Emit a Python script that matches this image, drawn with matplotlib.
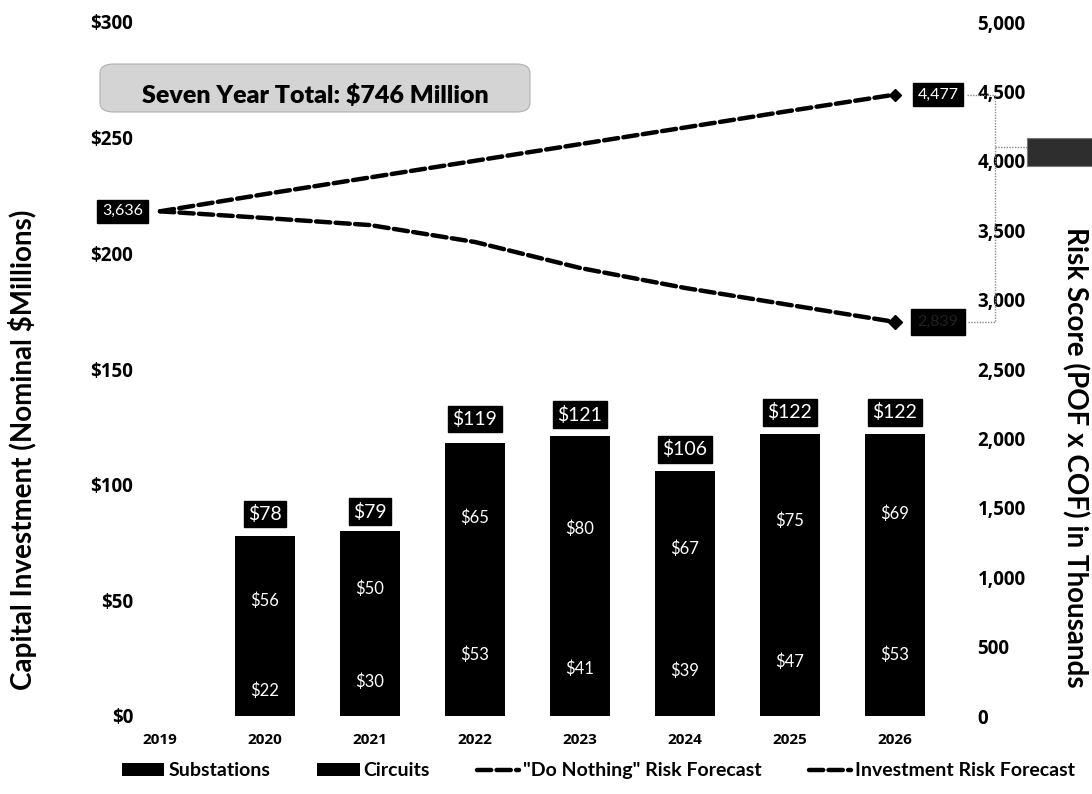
import matplotlib
matplotlib.use("Agg")
import matplotlib.pyplot as plt
from matplotlib.patches import FancyBboxPatch, Rectangle
from matplotlib.lines import Line2D
from matplotlib.transforms import blended_transform_factory

plt.rcParams['font.family'] = ['Lato', 'DejaVu Sans']

years = ['2019', '2020', '2021', '2022', '2023', '2024', '2025', '2026']
substations = [0, 22, 30, 53, 41, 39, 47, 53]
circuits = [0, 56, 50, 65, 80, 67, 75, 69]
totals = [0, 78, 79, 119, 121, 106, 122, 122]
do_nothing_risk = [3636, 3760, 3880, 4000, 4120, 4240, 4360, 4477]
investment_risk = [3636, 3588, 3537, 3415, 3228, 3084, 2961, 2839]
money_ticks = [0, 50, 100, 150, 200, 250, 300]
money_tick_labels = ['$0', '$50', '$100', '$150', '$200', '$250', '$300']
risk_ticks = [0, 500, 1000, 1500, 2000, 2500, 3000, 3500, 4000, 4500, 5000]
risk_tick_labels = ['0', '500', '1,000', '1,500', '2,000', '2,500', '3,000',
                    '3,500', '4,000', '4,500', '5,000']
total_text = 'Seven Year Total: $746 Million'

W, H = 1092, 794
fig = plt.figure(figsize=(W / 100, H / 100), dpi=100)
left_px, right_px, top_px, bottom_px = 140, 965, 22, 716
ax = fig.add_axes([left_px / W, 1 - bottom_px / H,
                   (right_px - left_px) / W, (bottom_px - top_px) / H])
ax2 = ax.twinx()

x = list(range(len(years)))
bw = 0.57
ax.bar(x, substations, bw, color='black', label='Substations', zorder=2)
ax.bar(x, circuits, bw, bottom=substations, color='black', label='Circuits', zorder=2)

# segment labels inside the stacks, totals in boxes above
for i in x:
    if totals[i] == 0:
        continue
    ax.text(i, substations[i] / 2, f'${substations[i]}', color='white',
            ha='center', va='center', fontsize=12, zorder=3)
    ax.text(i, substations[i] + circuits[i] / 2, f'${circuits[i]}', color='white',
            ha='center', va='center', fontsize=12, zorder=3)
    ax.annotate(f'${totals[i]}', (i, totals[i]), xytext=(0, 15.5),
                textcoords='offset points', ha='center', va='center',
                fontsize=14, color='white', zorder=4,
                bbox=dict(boxstyle='square,pad=0.22', fc='black', ec='black'))

tick_font = dict(family=['Open Sans', 'DejaVu Sans'], weight='bold')
ax.set_xlim(-0.19, 7 + (right_px - 895) / 105)
ax.set_ylim(0, 300)
ax.set_yticks(money_ticks, labels=money_tick_labels, fontsize=13.5, **tick_font)
ax.set_xticks(x, labels=years, fontsize=11, **tick_font)
for t in ax.get_xticklabels():
    t.set_fontsize(11)
    t.set_fontweight('bold')
ax.tick_params(axis='both', length=0)
ax.tick_params(axis='y', pad=5)
ax.tick_params(axis='x', pad=12)
ax.set_ylabel('Capital Investment (Nominal $Millions)', fontsize=20,
              fontweight='bold', va='center')
ax.yaxis.set_label_coords(-0.143, 0.383)

dash = dict(linewidth=3.2, dashes=(3.2, 1.2), dash_capstyle='round', color='black')
ax2.plot(x, do_nothing_risk, marker='D', markevery=[len(x) - 1], markersize=6,
         label='"Do Nothing" Risk Forecast', zorder=5, **dash)
ax2.plot(x, investment_risk, marker='D', markevery=[len(x) - 1], markersize=7,
         label='Investment Risk Forecast', zorder=5, **dash)
ax2.set_ylim(0, 5000)
ax2.set_yticks(risk_ticks, labels=risk_tick_labels, fontsize=13.5, **tick_font)
ax2.tick_params(axis='y', length=0, pad=9)
ax2.set_ylabel('Risk Score (POF x COF) in Thousands', fontsize=20,
               fontweight='bold', rotation=270, va='center')
ax2.yaxis.set_label_coords(1.133, 0.373)

for a in (ax, ax2):
    for s in a.spines.values():
        s.set_visible(False)

# risk end-point labels
box = dict(boxstyle='square,pad=0.3', fc='black', ec='black')
ax2.annotate(f'{do_nothing_risk[0]:,}', (0, do_nothing_risk[0]), xytext=(-27, 0),
             textcoords='offset points', ha='center', va='center', fontsize=11.5,
             color='white', bbox=box, zorder=6, annotation_clip=False)
ax2.annotate(f'{do_nothing_risk[-1]:,}', (7, do_nothing_risk[-1]), xytext=(31, 0),
             textcoords='offset points', ha='center', va='center', fontsize=11.5,
             color='white', bbox=box, zorder=6, annotation_clip=False)
ax2.annotate(f'{investment_risk[-1]:,}', (7, investment_risk[-1]), xytext=(31, 0),
             textcoords='offset points', ha='center', va='center', fontsize=11.5,
             color='#222222',
             bbox=dict(boxstyle='square,pad=0.4', fc='black', ec='black'),
             zorder=6, annotation_clip=False)

# bracket joining the two 2026 risk values
tr = blended_transform_factory(ax.transAxes, ax2.transData)
bx = (995 - left_px) / (right_px - left_px)
lx = 1.003
mid = 4100
gkw = dict(transform=tr, color='#888888', linewidth=1, linestyle=(0, (1, 1)),
           clip_on=False, zorder=1)
fig.add_artist(Line2D([lx, bx, bx, lx], [do_nothing_risk[-1], do_nothing_risk[-1],
                                         investment_risk[-1], investment_risk[-1]], **gkw))
fig.add_artist(Line2D([bx, 1.075], [mid, mid], **gkw))
fig.add_artist(Rectangle((1.075, 3960), 0.1, 205, transform=tr, fc='#2e2e2e',
                         ec='#777777', lw=0.8, clip_on=False, zorder=2))

# seven-year total callout
fig.add_artist(FancyBboxPatch((100 / W, 1 - 112 / H), 430 / W, 48 / H,
                              boxstyle='round,pad=0,rounding_size=0.012',
                              transform=fig.transFigure, fc='#d4d4d4', ec='#b0b0b0',
                              lw=0.8, zorder=1))
fig.text(315 / W, 1 - 96 / H, total_text, ha='center', va='center', fontsize=18,
         fontweight='heavy', color='black')

h1, l1 = ax.get_legend_handles_labels()
h2, l2 = ax2.get_legend_handles_labels()
h2 = [Line2D([0], [0], **dash) for _ in h2]
fig.legend(h1 + h2, l1 + l2, loc='center', bbox_to_anchor=(0.548, 0.029), ncol=4,
           frameon=False, prop=dict(size=14, weight='bold'), handlelength=2.2,
           handletextpad=0.2, columnspacing=2.4)

fig.savefig('out.png', dpi=100)
